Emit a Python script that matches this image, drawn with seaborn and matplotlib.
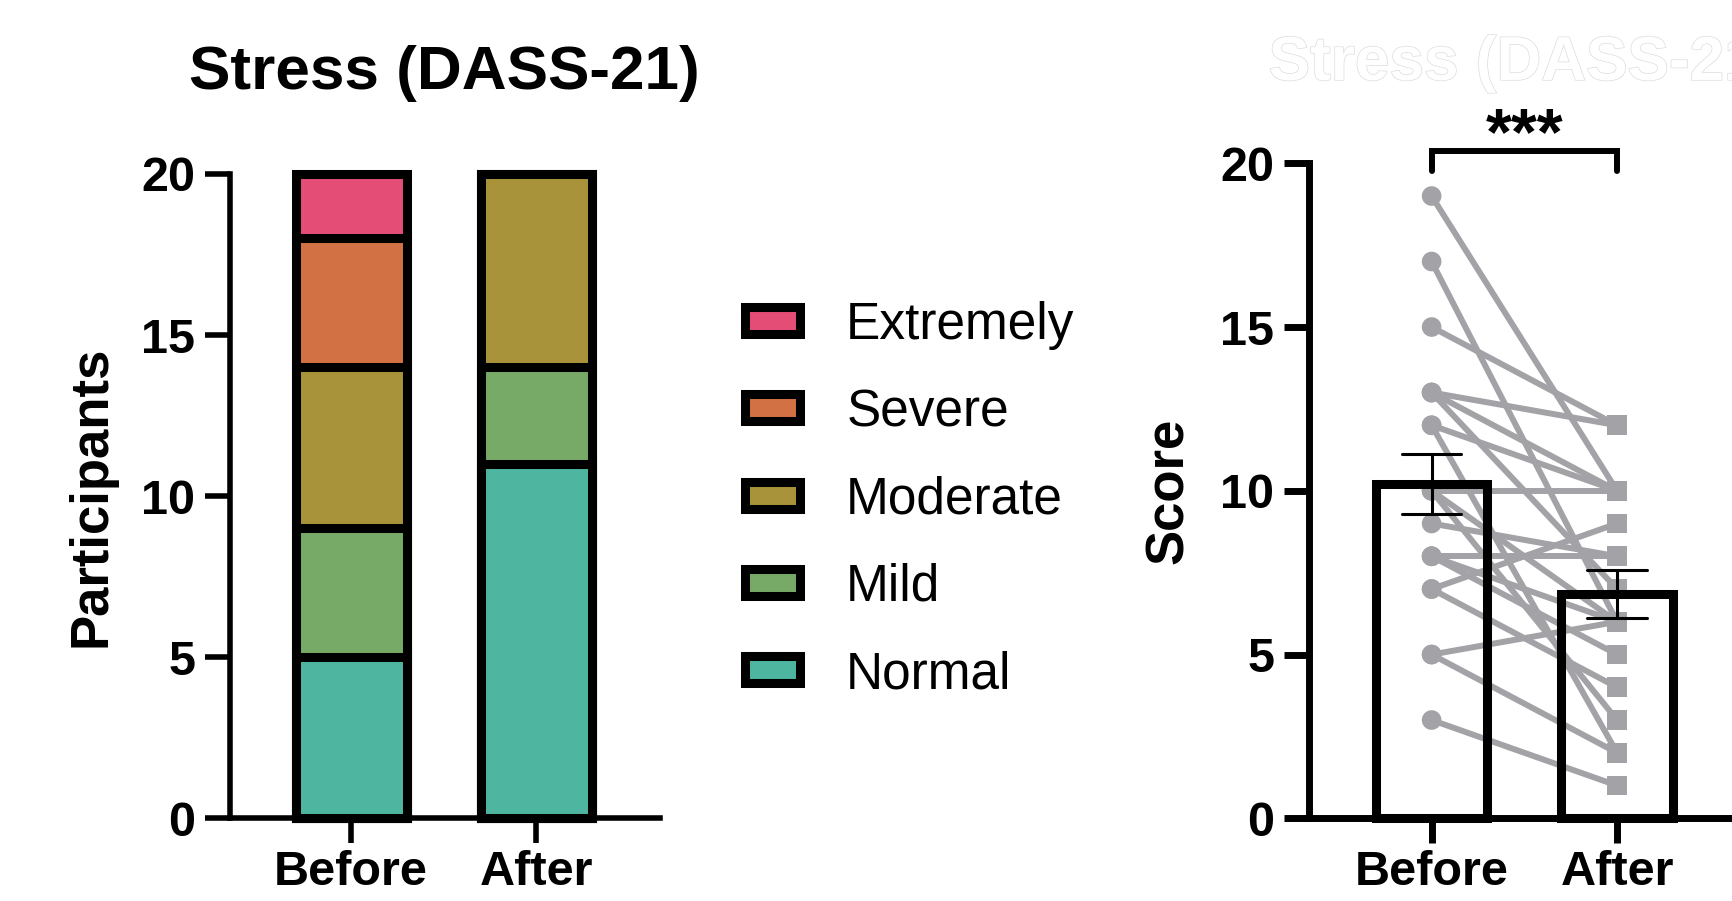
import matplotlib
matplotlib.use('Agg')
import matplotlib.pyplot as plt
import matplotlib.patheffects as pe
from matplotlib.patches import Patch
import numpy as np
import pandas as pd
import seaborn as sns

# --- data ---
timepoints = ['Before', 'After']
positions = [0, 1]
levels = ['Normal', 'Mild', 'Moderate', 'Severe', 'Extremely']
normal = [5, 11]
mild = [4, 3]
moderate = [5, 6]
severe = [4, 0]
extremely = [2, 0]
level_colors = ['#4DB5A0', '#77AA66', '#A8933A', '#D27143', '#E34D76']

# paired DASS-21 stress scores, one entry per participant
before_scores = [19, 17, 15, 13, 13, 13, 12, 12, 10, 10, 10, 9, 8, 8, 8, 7, 7, 5, 5, 3]
after_scores = [10, 6, 12, 12, 10, 7, 10, 2, 10, 3, 6, 8, 5, 8, 6, 9, 4, 6, 2, 1]

gray = '#A3A3A7'

sns.set_style('ticks')
plt.rcParams['font.family'] = ['Liberation Sans', 'DejaVu Sans']
for key in ('text.color', 'axes.labelcolor', 'xtick.color', 'ytick.color', 'axes.edgecolor'):
    plt.rcParams[key] = 'black'

fig = plt.figure(figsize=(17.32, 9.01), dpi=100)
ax1 = fig.add_axes([0.1327, 0.0917, 0.2483, 0.7152])
ax2 = fig.add_axes([0.7558, 0.0918, 0.2483, 0.727])

# --- left: stacked bars (drawn as cumulative totals, top layer first) ---
counts = np.array([normal, mild, moderate, severe, extremely])
cum = counts.cumsum(axis=0)
for i in range(len(levels) - 1, -1, -1):
    sns.barplot(x=positions, y=cum[i], native_scale=True, color=level_colors[i],
                saturation=1, edgecolor='black', linewidth=6.5, width=0.6,
                errorbar=None, clip_on=False, ax=ax1)

ax1.set_xlim(-0.655, 1.669)
ax1.set_ylim(0, 20)
ax1.set_yticks([0, 5, 10, 15, 20])
ax1.set_xticks(positions, timepoints)
ax1.set_title('Stress (DASS-21)', fontsize=44.7, fontweight='bold', pad=61)
ax1.set_ylabel('Participants', fontsize=38, fontweight='bold')
ax1.yaxis.label.set_va('center')
ax1.yaxis.set_label_coords(-0.321, 0.5)
ax1.set_xlabel('')

handles = [Patch(facecolor=level_colors[i], edgecolor='black', linewidth=6.5, label=levels[i])
           for i in range(len(levels) - 1, -1, -1)]
fig.legend(handles=handles, loc='upper left',
           bbox_to_anchor=(744.5 / 1732, 1 - 301 / 901), frameon=False,
           fontsize=37, handlelength=1.08, handleheight=0.43, handletextpad=0.9,
           labelspacing=0.745, borderpad=0, borderaxespad=0)

# --- right: paired scores with mean +/- SEM ---
df = pd.DataFrame({
    'id': list(range(len(before_scores))) * 2,
    'time': ['Before'] * len(before_scores) + ['After'] * len(after_scores),
    'pos': [0] * len(before_scores) + [1] * len(after_scores),
    'score': before_scores + after_scores,
})

sns.lineplot(data=df, x='pos', y='score', units='id', estimator=None, color=gray,
             linewidth=4.3, legend=False, ax=ax2, zorder=1)
sns.scatterplot(data=df, x='pos', y='score', style='time',
                markers={'Before': 'o', 'After': 's'}, color=gray, s=200,
                edgecolor='none', legend=False, ax=ax2, zorder=2)
sns.barplot(data=df, x='pos', y='score', native_scale=True, errorbar='se',
            fill=False, color='black', linewidth=6.5, width=0.6, capsize=0.32,
            err_kws={'color': 'black', 'linewidth': 2.2, 'zorder': 4},
            ax=ax2, zorder=3, clip_on=False)

ax2.set_xlim(-0.661, 1.658)
ax2.set_ylim(0, 20)
ax2.set_yticks([0, 5, 10, 15, 20])
ax2.set_xticks(positions, timepoints)
ax2.set_ylabel('Score', fontsize=38, fontweight='bold')
ax2.yaxis.label.set_va('center')
ax2.yaxis.set_label_coords(-0.326, 0.5)
ax2.set_xlabel('')
ghost = ax2.set_title('Stress (DASS-21)', fontsize=44.7, fontweight='bold', pad=60, color='white')
ghost.set_path_effects([pe.withStroke(linewidth=1.0, foreground='#dcdcdc')])

# significance bracket
ax2.plot([0, 0, 1, 1], [19.77, 20.37, 20.37, 19.77], color='black', lw=4.3,
         clip_on=False, solid_joinstyle='miter')
ax2.text(0.5, 19.85, '***', ha='center', va='bottom', fontsize=48,
         fontweight='bold', clip_on=False)

for ax, lw in ((ax1, 4), (ax2, 5)):
    sns.despine(ax=ax)
    ax.spines['left'].set_linewidth(lw)
    ax.spines['bottom'].set_linewidth(lw)
    ax.spines['left'].set_bounds(0, 20)
    ax.tick_params(axis='both', length=18, width=lw, labelsize=35, color='black')
    ax.tick_params(axis='y', pad=7)
    ax.tick_params(axis='x', pad=5)
    for lab in ax.get_xticklabels() + ax.get_yticklabels():
        lab.set_fontweight('bold')

fig.savefig('out.png', dpi=100)
